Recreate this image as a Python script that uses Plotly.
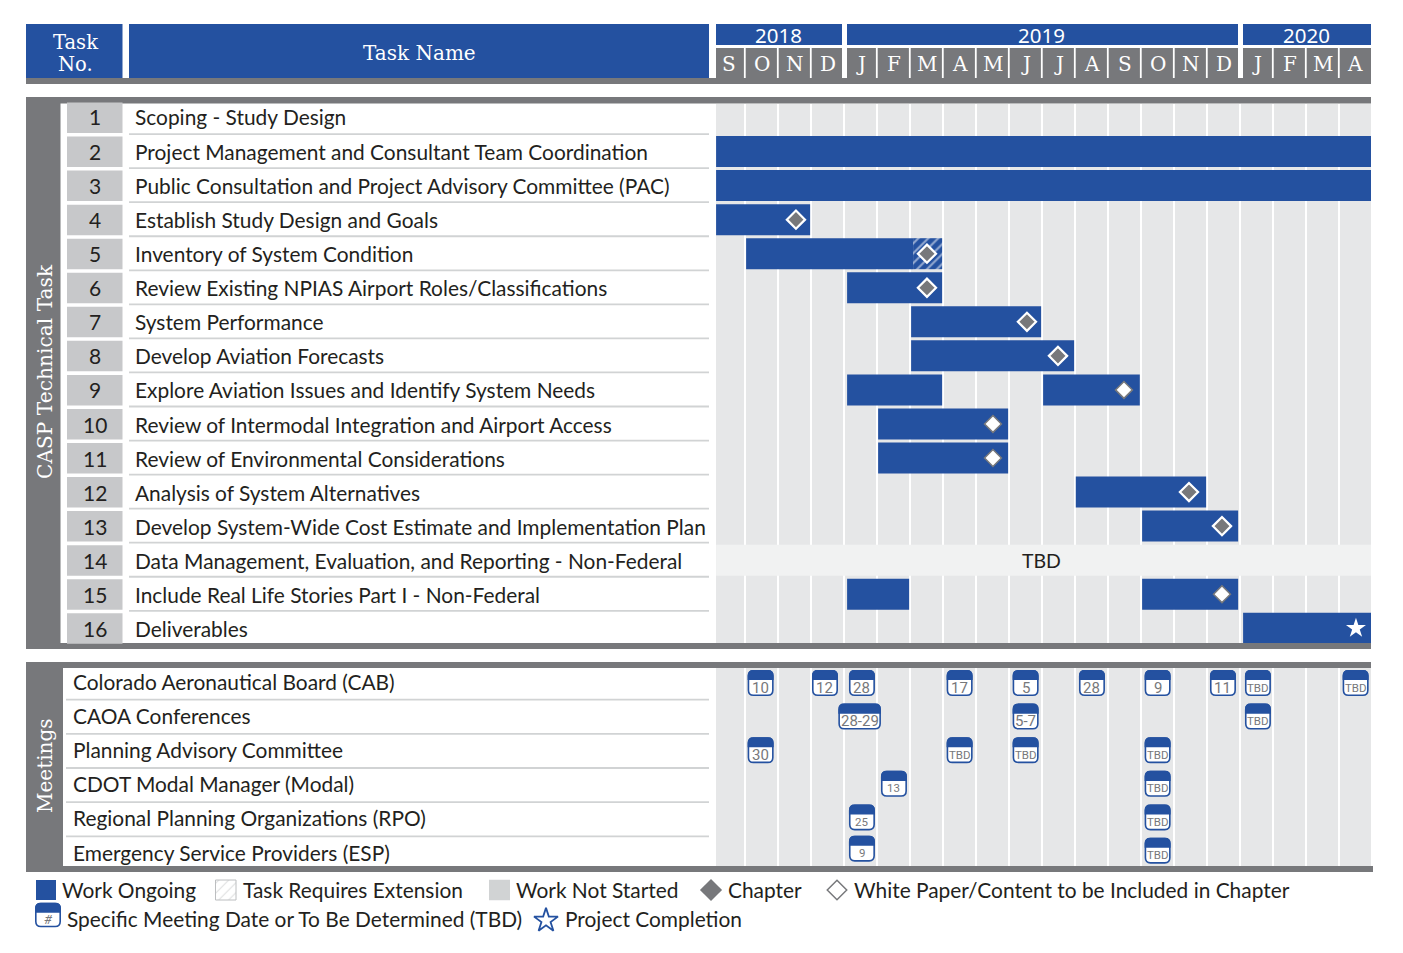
import plotly.graph_objects as go

W, H = 1403, 953
BLUE = "#2451A0"; GRAY = "#77787B"; CELL = "#E6E7E8"; NUM = "#C7C8CA"; LINE = "#D1D3D4"; INK = "#231F20"
BODY = "Lato"; SLAB = "DejaVu Serif"; ICON = "Roboto"

year_labels = ["2018", "2019", "2020"]
month_labels = list("SONDJFMAMJJASONDJFMA")
task_names = ["Scoping - Study Design", "Project Management and Consultant Team Coordination",
              "Public Consultation and Project Advisory Committee (PAC)", "Establish Study Design and Goals",
              "Inventory of System Condition", "Review Existing NPIAS Airport Roles/Classifications",
              "System Performance", "Develop Aviation Forecasts", "Explore Aviation Issues and Identify System Needs",
              "Review of Intermodal Integration and Airport Access", "Review of Environmental Considerations",
              "Analysis of System Alternatives", "Develop System-Wide Cost Estimate and Implementation Plan",
              "Data Management, Evaluation, and Reporting - Non-Federal", "Include Real Life Stories Part I - Non-Federal",
              "Deliverables"]
meeting_names = ["Colorado Aeronautical Board (CAB)", "CAOA Conferences", "Planning Advisory Committee",
                 "CDOT Modal Manager (Modal)", "Regional Planning Organizations (RPO)", "Emergency Service Providers (ESP)"]

# months since Sep 2018
bar_rows = [2, 3, 4, 5, 6, 7, 8, 9, 9, 10, 11, 12, 13, 15, 15, 16]
bar_starts = [0.13, 0.13, 0.13, 1.04, 4.10, 6.04, 6.04, 4.10, 10.04, 5.04, 5.04, 11.03, 13.04, 4.10, 13.04, 16.1]
bar_ends = [19.98, 19.98, 2.98, 6.10, 6.98, 9.98, 10.98, 6.98, 12.97, 8.98, 8.98, 14.98, 15.95, 5.98, 15.95, 19.98]
ext_rows = [5]; ext_starts = [6.10]; ext_ends = [6.98]
tbd_rows = [14]; tbd_starts = [0.13]; tbd_ends = [19.98]
chapter_rows = [4, 5, 6, 7, 8, 12, 13]
chapter_months = [2.55, 6.52, 6.52, 9.55, 10.49, 14.46, 15.46]
paper_rows = [9, 10, 11, 15]
paper_months = [12.49, 8.52, 8.52, 15.46]
star_rows = [16]; star_months = [19.52]

meet_rows = [1.0]*10 + [2.0]*3 + [3.0]*4 + [4.0]*2 + [5.0]*2 + [5.93, 5.99]
meet_months = [1.48, 3.43, 4.55, 7.51, 9.51, 11.52, 13.51, 15.49, 16.55, 19.51,
               4.48, 9.51, 16.55,
               1.48, 7.51, 9.51, 13.51,
               5.52, 13.51,
               4.55, 13.51,
               4.55, 13.51]
meet_labels = ["10", "12", "28", "17", "5", "28", "9", "11", "TBD", "TBD",
               "28-29", "5-7", "TBD",
               "30", "TBD", "TBD", "TBD",
               "13", "TBD",
               "25", "TBD",
               "9", "TBD"]
legend_row1 = ["Work Ongoing", "Task Requires Extension", "Work Not Started", "Chapter", "White Paper/Content to be Included in Chapter"]
legend_row2 = ["Specific Meeting Date or To Be Determined (TBD)", "Project Completion"]

M0 = 711.8; STEP = 33.0
RANGE = [(716 - M0) / STEP, (1371 - M0) / STEP]
T_TOP, T_BOT = 104, 643
M_TOP, M_BOT = 668, 866
T_C, T_S = 117.5, 34.05
M_C, M_S = 683.0, 33.6

def yd(a, b):
    return [1 - b / H, 1 - a / H]

fig = go.Figure()
shapes = []
ann = []

def rect(x0, y0, x1, y1, color, layer="below"):
    shapes.append(dict(type="rect", xref="paper", yref="paper", x0=x0 / W, x1=x1 / W, y0=1 - y0 / H, y1=1 - y1 / H,
                       fillcolor=color, line_width=0, layer=layer))

def text(x, y, s, size=20, color=INK, font=BODY, anchor="left", angle=0, **kw):
    ann.append(dict(xref="paper", yref="paper", x=x / W, y=1 - y / H, text=s, showarrow=False, xanchor=anchor,
                    yanchor="middle", textangle=angle, font=dict(family=font, size=size, color=color), **kw))

# ---------- header ----------
rect(26, 24, 122.5, 78, BLUE)
rect(129, 24, 709, 78, BLUE)
rect(26, 78, 1371, 84, GRAY)
text(75.5, 42, "Task", 19.5, "white", SLAB, "center", borderpad=0)
text(75.5, 64, "No.", 19.5, "white", SLAB, "center", borderpad=0)
text(419, 53, "Task Name", 20, "white", SLAB, "center")
for (a, b), lab in zip([(716, 842), (847, 1238), (1243, 1371)], year_labels):
    rect(a, 24, b, 45, BLUE)
    text((a + b) / 2 - 1, 35, lab, 20.5, "white", "Noto Sans", "center")
rect(716, 48, 842, 80, GRAY); rect(847, 48, 1238, 80, GRAY); rect(1243, 48, 1371, 80, GRAY)
for i, lab in enumerate(month_labels):
    a = max(M0 + i * STEP, 716); b = min(M0 + (i + 1) * STEP, 1371)
    text(((a + b) / 2 + 0.5) if i else 729, 64, lab, 20, "white", SLAB, "center")
    if i and i not in (4, 16):
        rect(M0 + i * STEP - 0.9, 48, M0 + i * STEP + 0.9, 78, "white")

# ---------- task table ----------
rect(26, 97, 1371, 103.5, GRAY)
rect(26, 97, 60.5, 649, GRAY)
rect(26, 643, 1371, 649, GRAY)
rect(716, T_TOP, 1371, T_BOT, CELL)
for i, name in enumerate(task_names):
    c = T_C + i * T_S
    rect(67, c - 15, 122.5, c + 15.5, NUM)
    ty = 116.9 + i * 34.13
    text(95, ty, str(i + 1), 21, INK, BODY, "center")
    text(133, ty, name, 20.9)
    if i < 15:
        rect(129, c + 15.7, 709, c + 17.5, LINE)
text(45, 372, "CASP Technical Task", 20.2, "white", SLAB, "center", -90)

# ---------- meetings table ----------
rect(26, 662, 1371, 668, GRAY)
rect(26, 662, 63, 872, GRAY)
rect(26, 866, 1373, 872, GRAY)
rect(716, M_TOP, 1371, M_BOT, CELL)
for i, name in enumerate(meeting_names):
    c = 682 + i * 34.2
    text(71, c - 1, name, 20.9)
    if i < 5:
        rect(66, c + 16.7, 709, c + 18.5, LINE)
text(45, 766, "Meetings", 20, "white", SLAB, "center", -90)

# ---------- task bars ----------
def bar(rows, starts, ends, color, axes=("x", "y"), **kw):
    return go.Bar(y=rows, base=starts, x=[e - s for s, e in zip(starts, ends)], orientation="h", width=kw.pop("width", 31 / T_S),
                  marker=dict(color=color, line_width=0, **kw), xaxis=axes[0], yaxis=axes[1], showlegend=False, hoverinfo="skip")

fig.add_trace(bar(tbd_rows, tbd_starts, tbd_ends, "#F1F2F2"))
fig.add_trace(bar(bar_rows, bar_starts, bar_ends, BLUE))
fig.add_trace(bar(ext_rows, ext_starts, ext_ends, BLUE, pattern=dict(shape="/", fgcolor="white", bgcolor=BLUE, size=7, solidity=0.3)))
fig.add_trace(go.Scatter(x=chapter_months, y=chapter_rows, mode="markers", showlegend=False, hoverinfo="skip",
                         marker=dict(symbol="diamond", size=14, color=GRAY, line=dict(color="white", width=2.2))))
fig.add_trace(go.Scatter(x=paper_months, y=paper_rows, mode="markers", showlegend=False, hoverinfo="skip",
                         marker=dict(symbol="diamond", size=13, color="white", line=dict(color=GRAY, width=1.5))))
fig.add_trace(go.Scatter(x=star_months, y=star_rows, mode="markers", showlegend=False, hoverinfo="skip",
                         marker=dict(symbol="star", size=15, color="white", line_width=0)))
ann.append(dict(xref="x", yref="y", x=10.0, y=14, text="TBD", showarrow=False, yshift=-0.5,
                font=dict(family=BODY, size=19.5, color=INK)))

# ---------- meeting icons ----------
def rr(x0, x1, y0, y1, r_top, r_bot):
    return (f"M {x0} {y0+r_bot} L {x0} {y1-r_top} Q {x0} {y1} {x0+r_top} {y1} L {x1-r_top} {y1} Q {x1} {y1} {x1} {y1-r_top} "
            f"L {x1} {y0+r_bot} Q {x1} {y0} {x1-r_bot} {y0} L {x0+r_bot} {y0} Q {x0} {y0} {x0} {y0+r_bot} Z")

def icon(xv, yv, xref, yref, w=24.4, h=24.4):
    base = dict(type="path", xref=xref, yref=yref, xsizemode="pixel", ysizemode="pixel", xanchor=xv, yanchor=yv, layer="above")
    shapes.append(dict(base, path=rr(-w/2, w/2, -h/2, h/2, 5, 5), fillcolor="white", line=dict(color=BLUE, width=1.6)))
    shapes.append(dict(base, path=rr(-w/2, w/2, h/2 - 8.5, h/2, 5, 0), fillcolor=BLUE, line=dict(color=BLUE, width=1.6)))

for r, m, lab in zip(meet_rows, meet_months, meet_labels):
    icon(m, r, "x", "y2", w=41 if "-" in lab and len(lab) > 3 else 24.4)
    small = lab in ("13", "25") or (lab == "9" and r > 5)
    size = 11.5 if lab == "TBD" else (11.5 if small else 15)
    ann.append(dict(xref="x", yref="y2", x=m, y=r, yshift=-4.5, text=lab, showarrow=False, font=dict(family=ICON, size=size, color=GRAY)))

# ---------- legend (pixel overlay) ----------
fig.add_trace(go.Bar(y=[890], base=[36], x=[20], width=20, orientation="h", xaxis="x3", yaxis="y3", showlegend=False, hoverinfo="skip",
                     marker=dict(color=BLUE, line_width=0)))
fig.add_trace(go.Bar(y=[890], base=[215.5], x=[20.5], width=20, orientation="h", xaxis="x3", yaxis="y3", showlegend=False, hoverinfo="skip",
                     marker=dict(color="white", line=dict(color="#BCBEC0", width=1),
                                 pattern=dict(shape="/", fgcolor="#BCBEC0", bgcolor="white", size=7, solidity=0.15))))
fig.add_trace(go.Bar(y=[890], base=[489], x=[21], width=20.5, orientation="h", xaxis="x3", yaxis="y3", showlegend=False, hoverinfo="skip",
                     marker=dict(color=LINE, line_width=0)))
fig.add_trace(go.Scatter(x=[711], y=[890], mode="markers", xaxis="x3", yaxis="y3", showlegend=False, hoverinfo="skip",
                         marker=dict(symbol="diamond", size=17, color=GRAY, line_width=0)))
fig.add_trace(go.Scatter(x=[837], y=[890], mode="markers", xaxis="x3", yaxis="y3", showlegend=False, hoverinfo="skip",
                         marker=dict(symbol="diamond", size=15, color="white", line=dict(color=GRAY, width=1.5))))
fig.add_trace(go.Scatter(x=[546], y=[920.5], mode="markers", xaxis="x3", yaxis="y3", showlegend=False, hoverinfo="skip",
                         marker=dict(symbol="star", size=18, color="white", line=dict(color=BLUE, width=1.8))))
icon(48, 915, "x3", "y3", h=23)
text(48, 919.5, "<i>#</i>", 13, GRAY, ICON, "center")
for x, s in zip([60, 241, 514, 726, 852], legend_row1):
    text(x, 889.5, s, 20.9)
for x, s in zip([65, 563], legend_row2):
    text(x, 918.5, s, 20.9)

fig.update_layout(
    width=W, height=H, margin=dict(l=0, r=0, t=0, b=0), autosize=False,
    paper_bgcolor="white", plot_bgcolor="rgba(0,0,0,0)", barmode="overlay",
    xaxis=dict(domain=[716 / W, 1371 / W], range=RANGE, anchor="y", dtick=1, tick0=0, showgrid=True, gridcolor="white",
               gridwidth=2, zeroline=False, showticklabels=False, ticks="", showline=False),
    xaxis2=dict(domain=[716 / W, 1371 / W], range=RANGE, anchor="y2", dtick=1, tick0=0, showgrid=True, gridcolor="white",
                gridwidth=2, zeroline=False, showticklabels=False, ticks="", showline=False),
    yaxis=dict(domain=yd(T_TOP, T_BOT), range=[1 + (T_BOT - T_C) / T_S, 1 - (T_C - T_TOP) / T_S], anchor="x", showgrid=False,
               zeroline=False, showticklabels=False, ticks=""),
    yaxis2=dict(domain=yd(M_TOP, M_BOT), range=[1 + (M_BOT - M_C) / M_S, 1 - (M_C - M_TOP) / M_S], anchor="x2", showgrid=False,
                zeroline=False, showticklabels=False, ticks=""),
    xaxis3=dict(domain=[0, 1], range=[0, W], anchor="y3", visible=False),
    yaxis3=dict(domain=[0, 1], range=[H, 0], anchor="x3", visible=False),
    shapes=shapes, annotations=ann,
)
fig.write_html("out.html", config=dict(displayModeBar=False), post_script="document.body.style.margin='0';document.documentElement.style.overflow='hidden';")
